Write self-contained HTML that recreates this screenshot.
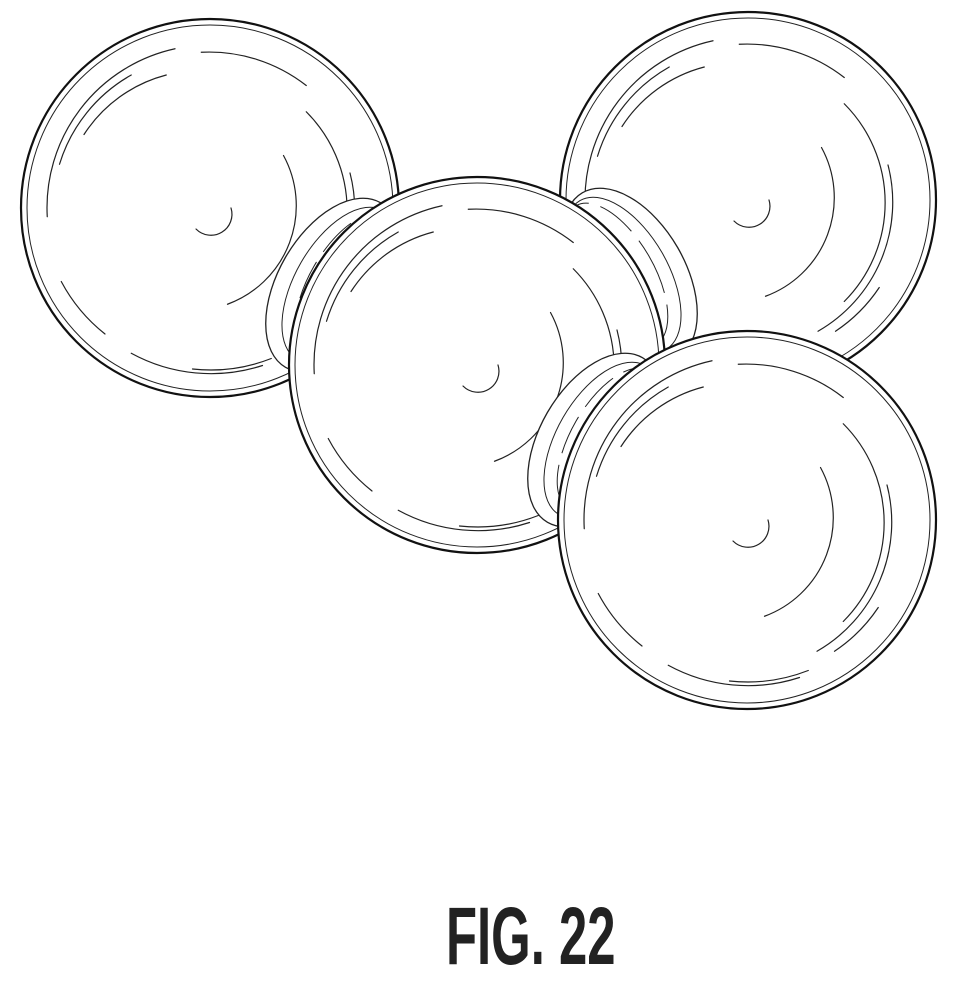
<!DOCTYPE html>
<html><head><meta charset="utf-8">
<style>
html,body{margin:0;padding:0;background:#fff;}
svg{display:block;}
</style></head>
<body>
<svg width="958" height="985" viewBox="0 0 958 985" xmlns="http://www.w3.org/2000/svg">
<defs>
<g id="shade" fill="none" stroke="#222" stroke-width="1.2" stroke-linecap="round">
  <path vector-effect="non-scaling-stroke" d="M -0.93 0.05 A 0.93 0.93 0 0 1 -0.2 -0.91" />
  <path vector-effect="non-scaling-stroke" d="M -0.86 -0.25 A 0.88 0.88 0 0 1 -0.45 -0.76" />
  <path vector-effect="non-scaling-stroke" d="M -0.05 -0.89 A 0.9 0.9 0 0 1 0.55 -0.7" />
  <path vector-effect="non-scaling-stroke" d="M -0.72 -0.42 A 0.8 0.8 0 0 1 -0.25 -0.76" />
  <path vector-effect="non-scaling-stroke" d="M -0.85 0.42 A 0.95 0.95 0 0 0 -0.6 0.72" />
  <path vector-effect="non-scaling-stroke" d="M 0.55 -0.55 A 0.8 0.8 0 0 1 0.55 0.58" />
  <path vector-effect="non-scaling-stroke" d="M 0.42 -0.3 A 0.6 0.6 0 0 1 0.1 0.55" />
  <path vector-effect="non-scaling-stroke" d="M 0.8 -0.2 A 0.85 0.85 0 0 1 0.4 0.75" />
  <path vector-effect="non-scaling-stroke" d="M -0.45 0.83 A 0.95 0.95 0 0 0 0.3 0.9" />
  <path vector-effect="non-scaling-stroke" d="M 0.5 0.75 A 0.9 0.9 0 0 0 0.75 0.5" />
  <path vector-effect="non-scaling-stroke" d="M -0.1 0.92 A 0.95 0.95 0 0 0 0.35 0.86" />
  <path vector-effect="non-scaling-stroke" d="M 0.12 0.0 A 0.12 0.12 0 0 1 -0.08 0.12" />
</g>
</defs>

<g>
  <circle cx="210" cy="208" r="189" fill="#fff" stroke="#111" stroke-width="2.2"/>
  <circle cx="210" cy="208" r="183" fill="none" stroke="#222" stroke-width="1"/>
  <use href="#shade" transform="translate(210 208) scale(175)"/>
</g>
<g>
  <circle cx="748" cy="200" r="188" fill="#fff" stroke="#111" stroke-width="2.2"/>
  <circle cx="748" cy="200" r="182" fill="none" stroke="#222" stroke-width="1"/>
  <use href="#shade" transform="translate(748 200) scale(175)"/>
</g>

<g fill="#fff" stroke="#222" stroke-width="1.3">
  <ellipse cx="333" cy="285" rx="55" ry="95" transform="rotate(30 333 285)"/>
  <ellipse cx="340" cy="285" rx="45" ry="86" transform="rotate(30 340 285)" fill="none" stroke-width="1"/>
  <ellipse cx="347" cy="285" rx="38" ry="80" transform="rotate(30 347 285)" fill="none" stroke-width="1" stroke-dasharray="40 12"/>
</g>
<g fill="#fff" stroke="#222" stroke-width="1.3">
  <ellipse cx="630" cy="275" rx="55" ry="95" transform="rotate(-30 630 275)"/>
  <ellipse cx="623" cy="275" rx="45" ry="86" transform="rotate(-30 623 275)" fill="none" stroke-width="1"/>
  <ellipse cx="616" cy="275" rx="38" ry="80" transform="rotate(-30 616 275)" fill="none" stroke-width="1" stroke-dasharray="40 12"/>
</g>

<g>
  <circle cx="477" cy="365" r="188" fill="#fff" stroke="#111" stroke-width="2.2"/>
  <circle cx="477" cy="365" r="182" fill="none" stroke="#222" stroke-width="1"/>
  <use href="#shade" transform="translate(477 365) scale(175)"/>
</g>

<g fill="#fff" stroke="#222" stroke-width="1.3">
  <ellipse cx="595" cy="440" rx="55" ry="95" transform="rotate(30 595 440)"/>
  <ellipse cx="602" cy="440" rx="45" ry="86" transform="rotate(30 602 440)" fill="none" stroke-width="1"/>
  <ellipse cx="609" cy="440" rx="38" ry="80" transform="rotate(30 609 440)" fill="none" stroke-width="1" stroke-dasharray="40 12"/>
</g>

<g>
  <circle cx="747" cy="520" r="189" fill="#fff" stroke="#111" stroke-width="2.2"/>
  <circle cx="747" cy="520" r="183" fill="none" stroke="#222" stroke-width="1"/>
  <use href="#shade" transform="translate(747 520) scale(175)"/>
</g>

<text x="0" y="0" transform="translate(446 964) scale(0.62 1)" font-family="Liberation Sans, sans-serif" font-weight="bold" font-size="82" fill="#222">FIG. 22</text>
</svg>
</body></html>
